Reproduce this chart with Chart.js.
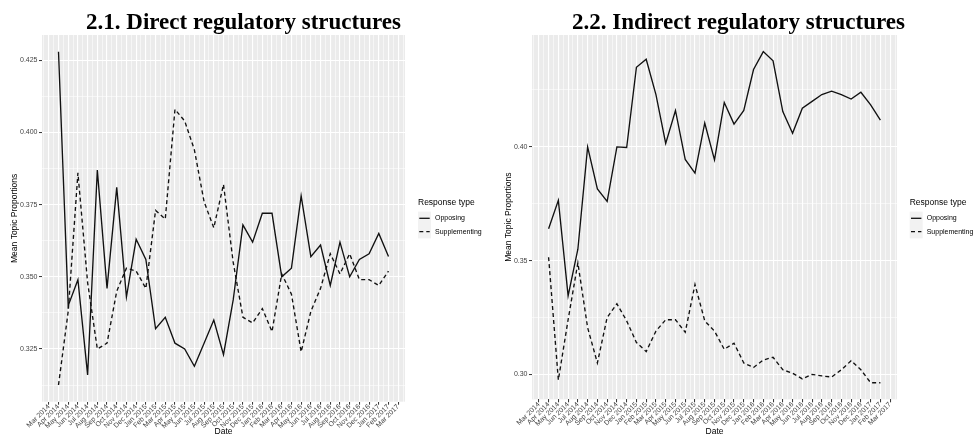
<!DOCTYPE html>
<html>
<head>
<meta charset="utf-8">
<script src="https://cdn.jsdelivr.net/npm/chart.js@4.4.1/dist/chart.umd.min.js"></script>
<style>
  html, body { margin: 0; padding: 0; background: #fff; width: 974px; height: 436px; overflow: hidden; }
  .plot { position: absolute; top: 0; width: 487px; height: 436px; }
  #plotDirect { left: 0; }
  #plotIndirect { left: 495px; }
</style>
</head>
<body>
<div class="plot" id="plotDirect"><canvas id="direct" width="487" height="436"></canvas></div>
<div class="plot" id="plotIndirect"><canvas id="indirect" width="487" height="436"></canvas></div>
<script>
// Monthly axis labels
const months = [
  'Mar 2014', 'Apr 2014', 'May 2014', 'Jun 2014', 'Jul 2014', 'Aug 2014', 'Sep 2014', 'Oct 2014', 'Nov 2014', 'Dec 2014',
  'Jan 2015', 'Feb 2015', 'Mar 2015', 'Apr 2015', 'May 2015', 'Jun 2015', 'Jul 2015', 'Aug 2015', 'Sep 2015', 'Oct 2015', 'Nov 2015', 'Dec 2015',
  'Jan 2016', 'Feb 2016', 'Mar 2016', 'Apr 2016', 'May 2016', 'Jun 2016', 'Jul 2016', 'Aug 2016', 'Sep 2016', 'Oct 2016', 'Nov 2016', 'Dec 2016',
  'Jan 2017', 'Feb 2017', 'Mar 2017'
];
const firstDataMonth = 'Apr 2014';

const seriesNames = ['Opposing', 'Supplementing'];

// 2.1 Direct regulatory structures (Apr 2014 - Feb 2017)
const directOpposing = [
  0.428, 0.340, 0.349, 0.316, 0.387, 0.346, 0.381, 0.343, 0.363, 0.356,
  0.332, 0.336, 0.327, 0.325, 0.319, 0.327, 0.335, 0.323, 0.342, 0.368,
  0.362, 0.372, 0.372, 0.350, 0.353, 0.378, 0.357, 0.361, 0.347, 0.362,
  0.350, 0.356, 0.358, 0.365, 0.357
];
const directSupplementing = [
  0.3125, 0.338, 0.386, 0.348, 0.325, 0.327, 0.345, 0.353, 0.352, 0.346,
  0.373, 0.370, 0.408, 0.404, 0.394, 0.376, 0.367, 0.382, 0.355, 0.336,
  0.334, 0.339, 0.331, 0.351, 0.344, 0.324, 0.338, 0.346, 0.358, 0.351,
  0.358, 0.349, 0.349, 0.347, 0.352
];

// 2.2 Indirect regulatory structures (Apr 2014 - Feb 2017)
const indirectOpposing = [
  0.364, 0.3765, 0.3345, 0.355, 0.400, 0.3815, 0.376, 0.400, 0.3997, 0.435,
  0.4385, 0.423, 0.4015, 0.416, 0.3945, 0.3885, 0.4105, 0.3943, 0.4195, 0.410,
  0.416, 0.434, 0.4419, 0.4378, 0.4155, 0.406, 0.417, 0.420, 0.423, 0.4245,
  0.423, 0.421, 0.424, 0.4185, 0.4118
];
const indirectSupplementing = [
  0.3515, 0.2975, 0.324, 0.349, 0.3205, 0.305, 0.325, 0.331, 0.3235, 0.314,
  0.310, 0.319, 0.324, 0.324, 0.3185, 0.3395, 0.3235, 0.319, 0.311, 0.3137,
  0.305, 0.303, 0.3063, 0.3075, 0.302, 0.3005, 0.298, 0.300, 0.2993, 0.2988,
  0.302, 0.306, 0.302, 0.2963, 0.2963
];

// Y tick labels
const directYTickLabels = ['0.325', '0.350', '0.375', '0.400', '0.425'];
const indirectYTickLabels = ['0.30', '0.35', '0.40'];

const SANS = "'Liberation Sans', Arial, Helvetica, sans-serif";
const SERIF = "'Liberation Serif', 'Times New Roman', serif";
const PANEL_BG = '#EBEBEB';
const LINE_COLOR = '#111111';
const DASH = [4, 3];

// ggplot-style 5% expansion around a set of values
function expandRange(values) {
  const lo = Math.min(...values), hi = Math.max(...values);
  const pad = (hi - lo) * 0.05;
  return [lo - pad, hi + pad];
}

// major ticks plus minor ticks half way between them, kept inside [lo, hi]
function ticksWithMinors(majors, lo, hi) {
  const step = majors[1] - majors[0];
  const out = majors.map(v => ({ value: v }));
  for (let v = majors[0] - step / 2; v >= lo; v -= step) out.push({ value: +v.toFixed(6), minor: true });
  for (let i = 0; i < majors.length - 1; i++) out.push({ value: +(majors[i] + step / 2).toFixed(6), minor: true });
  for (let v = majors[majors.length - 1] + step / 2; v <= hi; v += step) out.push({ value: +v.toFixed(6), minor: true });
  return out.sort((a, b) => a.value - b.value);
}

const gridWidth = ctx => (ctx.tick && ctx.tick.minor ? 0.55 : 1.1);
const tickMarkColor = ctx => (ctx.tick && ctx.tick.minor ? 'rgba(0,0,0,0)' : '#333333');

const panelBackground = {
  id: 'panelBackground',
  beforeDraw(chart) {
    const { ctx, chartArea: a } = chart;
    ctx.save();
    ctx.fillStyle = PANEL_BG;
    ctx.fillRect(a.left, a.top, a.right - a.left, a.bottom - a.top);
    ctx.restore();
  }
};

// heading centred across the whole canvas
const plotHeading = {
  id: 'plotHeading',
  afterDraw(chart, args, opts) {
    const { ctx } = chart;
    ctx.save();
    ctx.fillStyle = '#000';
    ctx.font = 'bold 23px ' + SERIF;
    ctx.textAlign = 'center';
    ctx.textBaseline = 'alphabetic';
    ctx.fillText(opts.text, chart.width / 2, opts.baseline);
    ctx.restore();
  }
};

// ggplot-like legend: title + keys with grey background
const sideLegend = {
  id: 'sideLegend',
  afterDraw(chart, args, opts) {
    const { ctx } = chart;
    const x = opts.x, y = opts.y;
    ctx.save();
    ctx.fillStyle = '#000';
    ctx.font = '8.5px ' + SANS;
    ctx.textAlign = 'left';
    ctx.textBaseline = 'middle';
    ctx.fillText(opts.title, x, y);
    chart.data.datasets.forEach((ds, i) => {
      const top = y + 8.6 + i * 13.4;
      ctx.fillStyle = '#F2F2F2';
      ctx.fillRect(x, top, 13, 13.4);
      ctx.strokeStyle = LINE_COLOR;
      ctx.lineWidth = 1.3;
      ctx.setLineDash(ds.borderDash || []);
      ctx.beginPath();
      ctx.moveTo(x + 1.3, top + 6.7);
      ctx.lineTo(x + 11.7, top + 6.7);
      ctx.stroke();
      ctx.setLineDash([]);
      ctx.fillStyle = '#000';
      ctx.font = '7px ' + SANS;
      ctx.fillText(ds.label, x + 17, top + 6.9);
    });
    ctx.restore();
  }
};

function buildChart(canvasId, cfg) {
  const offset = months.indexOf(firstDataMonth);
  const toPoints = arr => arr.map((v, i) => ({ x: offset + i, y: v }));
  const lastIdx = offset + cfg.opposing.length - 1;
  const [xMin, xMax] = expandRange([offset, lastIdx]);
  const [yMin, yMax] = expandRange(cfg.opposing.concat(cfg.supplementing));
  const yMajors = cfg.yLabels.map(Number);
  const xMajors = months.map((m, i) => i);

  return new Chart(document.getElementById(canvasId), {
    type: 'line',
    data: {
      datasets: [
        { label: seriesNames[0], data: toPoints(cfg.opposing), borderColor: LINE_COLOR, borderWidth: 1.35, pointRadius: 0, tension: 0, fill: false },
        { label: seriesNames[1], data: toPoints(cfg.supplementing), borderColor: LINE_COLOR, borderWidth: 1.35, borderDash: DASH, pointRadius: 0, tension: 0, fill: false }
      ]
    },
    options: {
      responsive: false,
      animation: false,
      devicePixelRatio: 1,
      layout: { padding: { left: 0, right: cfg.rightPad, top: cfg.topPad, bottom: 0 } },
      plugins: {
        legend: { display: false },
        tooltip: { enabled: false },
        title: { display: false },
        plotHeading: { text: cfg.title, baseline: 29 },
        sideLegend: { x: cfg.legendX, y: 203, title: 'Response type' }
      },
      scales: {
        x: {
          type: 'linear',
          min: xMin,
          max: xMax,
          bounds: 'data',
          afterBuildTicks: s => { s.ticks = ticksWithMinors(xMajors, xMin, xMax); },
          afterFit: s => { s.height = cfg.xAxisHeight; },
          border: { display: false },
          grid: { color: '#FFFFFF', lineWidth: gridWidth, tickColor: tickMarkColor, tickWidth: 1, tickLength: 3 },
          ticks: {
            autoSkip: false,
            minRotation: 45,
            maxRotation: 45,
            padding: -2,
            color: '#444444',
            font: { family: SANS, size: 7 },
            callback: v => (Number.isInteger(v) ? months[v] : '')
          },
          title: { display: true, text: 'Date', color: '#000', font: { family: SANS, size: 8.5, lineHeight: 1 }, padding: { top: 0, bottom: 0 } }
        },
        y: {
          type: 'linear',
          min: yMin,
          max: yMax,
          bounds: 'data',
          afterBuildTicks: s => { s.ticks = ticksWithMinors(yMajors, yMin, yMax); },
          afterFit: s => { s.width = cfg.yAxisWidth; },
          border: { display: false },
          grid: { color: '#FFFFFF', lineWidth: gridWidth, tickColor: tickMarkColor, tickWidth: 1, tickLength: 3 },
          ticks: {
            padding: 1.5,
            color: '#444444',
            font: { family: SANS, size: 7 },
            callback: v => {
              const k = yMajors.findIndex(m => Math.abs(m - v) < 1e-9);
              return k >= 0 ? cfg.yLabels[k] : '';
            }
          },
          title: { display: true, text: 'Mean Topic Proportions', color: '#000', font: { family: SANS, size: 8.5, lineHeight: 1 }, padding: { top: cfg.yTitlePad, bottom: 0 } }
        }
      }
    },
    plugins: [panelBackground, plotHeading, sideLegend]
  });
}

buildChart('direct', {
  title: '2.1. Direct regulatory structures',
  opposing: directOpposing,
  supplementing: directSupplementing,
  yLabels: directYTickLabels,
  yAxisWidth: 42,
  yTitlePad: 10.7,
  xAxisHeight: 34.3,
  topPad: 35,
  rightPad: 82,
  legendX: 418
});

buildChart('indirect', {
  title: '2.2. Indirect regulatory structures',
  opposing: indirectOpposing,
  supplementing: indirectSupplementing,
  yLabels: indirectYTickLabels,
  yAxisWidth: 37,
  yTitlePad: 9.4,
  xAxisHeight: 36.7,
  topPad: 35,
  rightPad: 85,
  legendX: 414.7
});
</script>
</body>
</html>
